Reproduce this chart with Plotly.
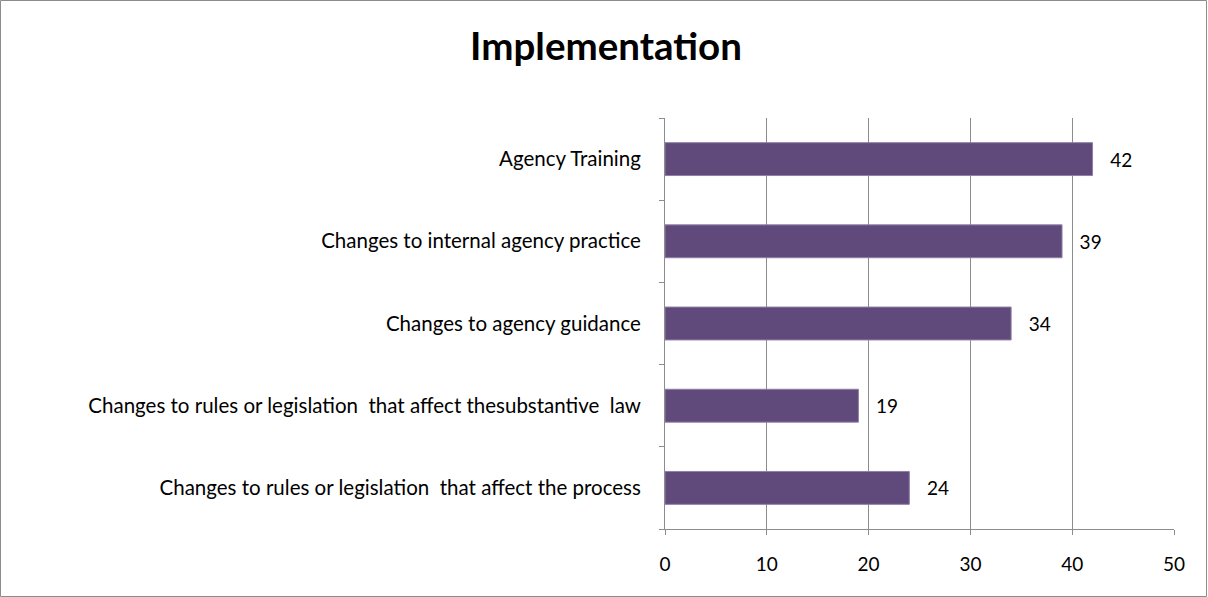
import plotly.graph_objects as go

categories = [
    "Changes to rules or legislation  that affect the process",
    "Changes to rules or legislation  that affect thesubstantive  law",
    "Changes to agency guidance",
    "Changes to internal agency practice",
    "Agency Training",
]
values = [24, 19, 34, 39, 42]
x_ticks = [0, 10, 20, 30, 40, 50]

FONT = "Lato"
W, H = 1208, 597
L, R, T, B = 665, 34, 118, 68
PW, PH = W - L - R, H - T - B

fig = go.Figure()
fig.add_trace(go.Bar(
    y=categories,
    x=values,
    orientation="h",
    marker=dict(color="#604A7B", line=dict(color="#8E7FA6", width=1)),
    width=0.4,
    text=[str(v) for v in values],
    texttemplate="\u00a0\u00a0\u00a0%{text}",
    textposition="outside",
    textfont=dict(family=FONT, size=19, color="#000000"),
    cliponaxis=False,
    hoverinfo="skip",
))

fig.update_layout(
    width=W, height=H,
    paper_bgcolor="white", plot_bgcolor="white",
    margin=dict(l=L, r=R, t=T, b=B, autoexpand=False),
    showlegend=False,
    title=dict(text="<b>Implementation</b>", x=606 / W, xanchor="center",
               y=1 - 47 / H, yanchor="middle",
               font=dict(family=FONT, size=38.5, color="#000000")),
    xaxis=dict(
        range=[0, 50], tickvals=x_ticks, ticktext=[str(t) for t in x_ticks],
        showgrid=True, gridcolor="#8C8C8C", gridwidth=1,
        showline=True, linecolor="#8C8C8C", linewidth=1,
        ticks="outside", ticklen=5, tickcolor="#8C8C8C",
        tickfont=dict(family=FONT, size=19, color="#000000"),
        ticklabelstandoff=13,
        zeroline=False, fixedrange=True,
    ),
    yaxis=dict(
        type="category", categoryorder="array", categoryarray=categories,
        showgrid=False, showline=True, linecolor="#8C8C8C", linewidth=1,
        ticks="outside", ticklen=5, tickcolor="#8C8C8C", tickson="boundaries",
        tickfont=dict(family=FONT, size=20.5, color="#000000"),
        ticklabelstandoff=19, zeroline=False, fixedrange=True,
    ),
    bargap=0.6,
)

fig.add_shape(type="rect", xref="paper", yref="paper",
              x0=-(L - 0.5) / PW, x1=1 + (R - 1.5) / PW,
              y0=-(B - 0.5) / PH, y1=1 + (T - 0.5) / PH,
              line=dict(color="#8C8C8C", width=1), fillcolor="rgba(0,0,0,0)",
              layer="below")

fig.write_html(
    "out.html",
    config={"displayModeBar": False},
    post_script="document.body.style.margin='0';document.body.style.overflow='hidden';",
)
